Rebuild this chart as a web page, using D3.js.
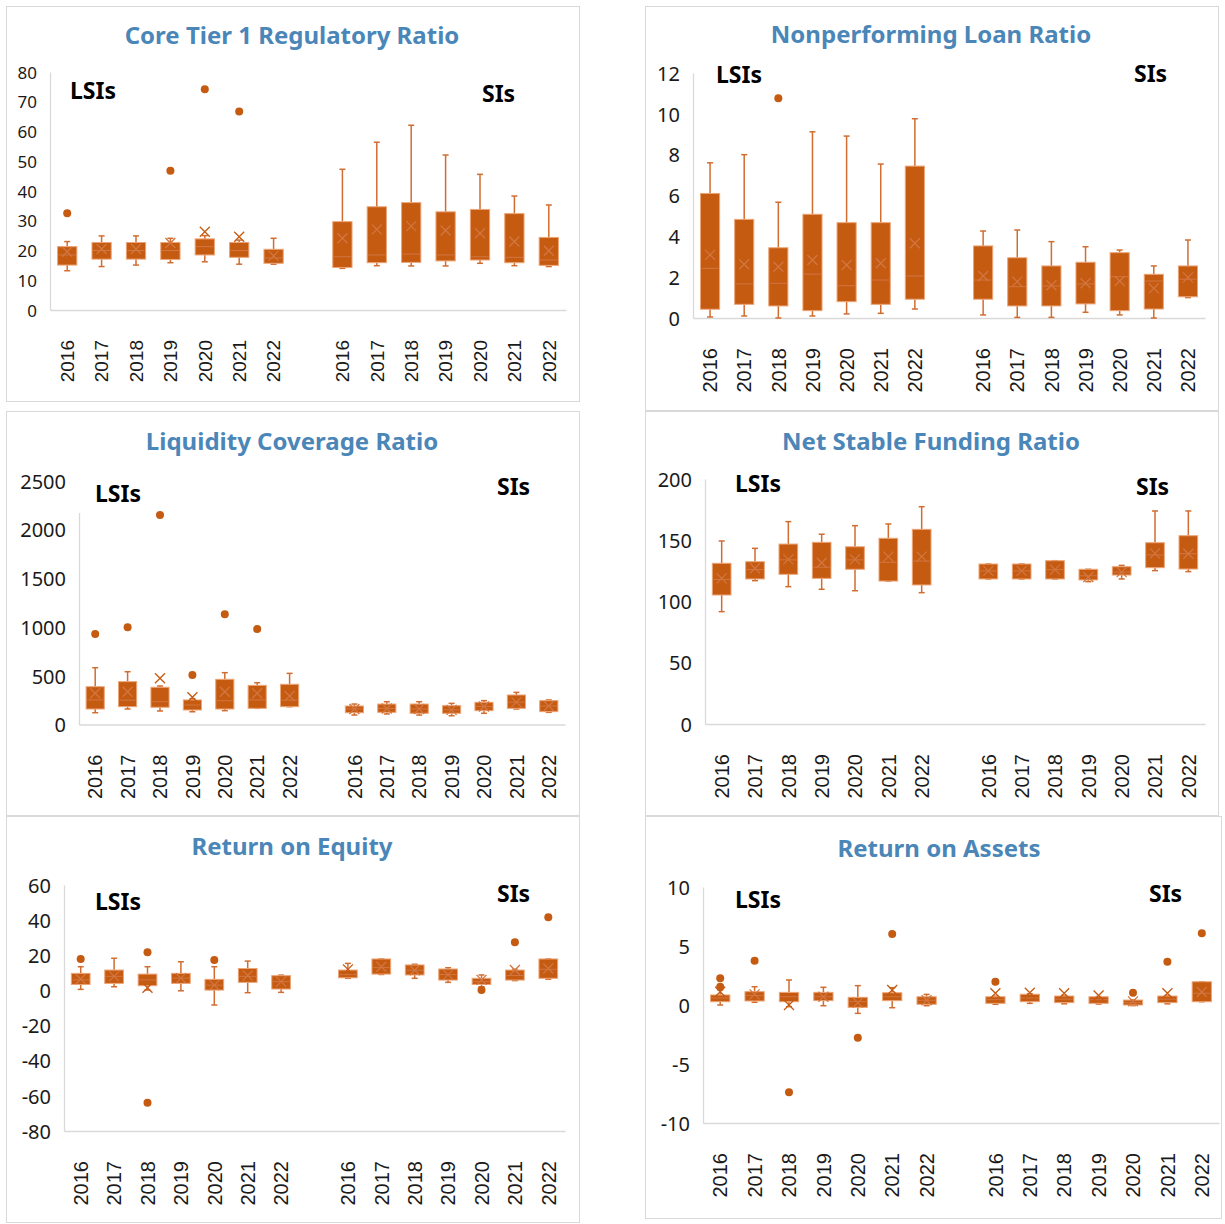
<!DOCTYPE html>
<html>
<head>
<meta charset="utf-8">
<script src="https://cdn.jsdelivr.net/npm/d3@7"></script>
<style>
  html, body { margin: 0; padding: 0; background: #fff; }
  svg { display: block; }
</style>
</head>
<body>
<svg id="chart" width="1225" height="1224"></svg>
<script>
// Years shown for each banking group
const years = ["2016", "2017", "2018", "2019", "2020", "2021", "2022"];
const groups = ["LSIs", "SIs"];

// Box rows: [lower whisker, Q1, median, Q3, upper whisker, mean]
const ct1LSI = [
  [13.2, 15.1, 18.5, 21.3, 23.0, 19.6],
  [14.6, 17.1, 20.0, 22.7, 24.9, 20.5],
  [15.1, 17.1, 20.0, 22.7, 24.9, 20.5],
  [15.9, 17.0, 20.0, 22.7, 24.1, 22.5],
  [16.2, 18.5, 21.3, 23.9, 25.0, 26.3],
  [15.4, 17.7, 20.0, 22.7, 23.5, 24.6],
  [15.4, 15.7, 17.5, 20.4, 24.1, 18.2]
];
const ct1SI = [
  [14.0, 14.3, 17.9, 29.7, 47.3, 24.1],
  [14.9, 15.9, 18.5, 34.7, 56.4, 27.1],
  [14.8, 16.0, 18.8, 36.1, 62.1, 28.2],
  [14.8, 16.5, 18.5, 33.0, 52.1, 26.7],
  [15.7, 16.8, 17.9, 33.8, 45.6, 25.8],
  [14.9, 15.9, 17.7, 32.4, 38.3, 23.0],
  [14.6, 15.0, 16.8, 24.4, 35.3, 19.9]
];
// Outliers: [group, year, value]
const ct1Out = [["LSIs", "2016", 32.5], ["LSIs", "2019", 46.8], ["LSIs", "2020", 74.2], ["LSIs", "2021", 66.7]];
const ct1Ticks = [0, 10, 20, 30, 40, 50, 60, 70, 80];

const nplLSI = [
  [0.05, 0.43, 2.43, 6.10, 7.60, 3.09],
  [0.10, 0.67, 1.67, 4.83, 8.00, 2.63],
  [0.00, 0.59, 1.70, 3.44, 5.67, 2.51],
  [0.10, 0.36, 2.15, 5.08, 9.12, 2.84],
  [0.20, 0.80, 1.58, 4.67, 8.91, 2.60],
  [0.23, 0.67, 1.86, 4.67, 7.54, 2.68],
  [0.44, 0.92, 2.06, 7.44, 9.76, 3.66]
];
const nplSI = [
  [0.15, 0.92, 1.86, 3.53, 4.26, 2.06],
  [0.03, 0.59, 1.53, 2.95, 4.31, 1.78],
  [0.03, 0.59, 1.57, 2.55, 3.74, 1.60],
  [0.28, 0.69, 1.67, 2.73, 3.49, 1.70],
  [0.15, 0.36, 2.02, 3.20, 3.33, 1.81],
  [0.00, 0.44, 1.81, 2.14, 2.55, 1.45],
  [1.00, 1.04, 1.90, 2.55, 3.82, 1.99]
];
const nplOut = [["LSIs", "2018", 10.76]];
const nplTicks = [0, 2, 4, 6, 8, 10, 12];

const lcrLSI = [
  [121, 159, 252, 388, 583, 320],
  [159, 183, 250, 440, 542, 337],
  [139, 177, 234, 382, 395, 474],
  [131, 149, 200, 252, 265, 279],
  [142, 159, 244, 464, 532, 337],
  [166, 166, 252, 402, 429, 320],
  [183, 183, 250, 413, 525, 293]
];
const lcrSI = [
  [97, 121, 160, 190, 210, 160],
  [108, 125, 165, 210, 234, 165],
  [97, 115, 160, 210, 234, 160],
  [90, 115, 150, 193, 217, 150],
  [115, 142, 185, 228, 245, 185],
  [159, 166, 230, 303, 330, 230],
  [125, 132, 190, 245, 252, 190]
];
const lcrOut = [["LSIs", "2016", 929], ["LSIs", "2017", 998], ["LSIs", "2018", 2151],
                ["LSIs", "2019", 508], ["LSIs", "2020", 1131], ["LSIs", "2021", 980]];
const lcrTicks = [0, 500, 1000, 1500, 2000, 2500];

const nsfrLSI = [
  [91.7, 105.3, 118, 131.2, 149.4, 118.9],
  [117.0, 118.4, 126, 132.5, 143.4, 127.1],
  [112.1, 122.2, 134, 146.9, 165.2, 134.4],
  [110.0, 118.9, 128, 148.3, 154.9, 131.7],
  [108.8, 126.3, 134, 144.7, 161.9, 134.4],
  [116.7, 116.7, 132, 151.6, 163.3, 136.6],
  [107.2, 113.5, 133, 158.9, 177.4, 136.6]
];
const nsfrSI = [
  [118.4, 118.4, 125, 130.6, 130.6, 125],
  [118.4, 118.4, 125, 130.6, 130.6, 125],
  [118.4, 118.4, 126, 133.3, 133.3, 126],
  [116.2, 117.6, 121, 126.3, 126.3, 120],
  [118.4, 121.6, 124, 128.4, 129.5, 124],
  [125.2, 127.6, 138, 148.0, 173.9, 139.3],
  [124.4, 126.5, 139, 153.7, 173.9, 139.0]
];
const nsfrOut = [];
const nsfrTicks = [0, 50, 100, 150, 200];

const roeLSI = [
  [0.6, 3.4, 6.0, 9.7, 13.5, 6.5],
  [2.1, 4.0, 8.0, 11.6, 18.3, 8.0],
  [0.2, 2.7, 6.0, 9.3, 13.5, 1.5],
  [-0.2, 4.0, 7.0, 9.7, 16.3, 7.0],
  [-8.3, 0.2, 3.0, 6.3, 13.5, 3.0],
  [-1.3, 4.6, 8.0, 12.5, 16.7, 8.5],
  [-1.1, 0.8, 5.0, 8.4, 8.7, 5.0]
];
const roeSI = [
  [6.9, 7.2, 9.0, 11.6, 15.4, 12.0],
  [9.1, 9.3, 13.0, 17.9, 17.9, 13.5],
  [6.9, 8.8, 11.5, 14.5, 14.9, 11.5],
  [4.6, 5.9, 9.0, 12.2, 12.9, 9.0],
  [2.1, 3.4, 5.0, 6.9, 8.8, 6.0],
  [5.6, 5.9, 8.5, 11.6, 12.0, 11.6],
  [6.4, 6.9, 12.0, 17.9, 17.9, 12.5]
];
const roeOut = [["LSIs", "2016", 17.9], ["LSIs", "2018", 21.7], ["LSIs", "2018", -63.9], ["LSIs", "2020", 17.3],
                ["SIs", "2020", 0.2], ["SIs", "2021", 27.4], ["SIs", "2022", 41.6]];
const roeTicks = [-80, -60, -40, -20, 0, 20, 40, 60];

const roaLSI = [
  [0.00, 0.28, 0.60, 0.85, 1.27, 1.13],
  [0.23, 0.34, 0.80, 1.13, 1.55, 0.90],
  [-0.14, 0.28, 0.70, 1.07, 2.12, 0.00],
  [-0.06, 0.37, 0.70, 1.07, 1.50, 0.70],
  [-0.71, -0.20, 0.30, 0.65, 1.64, 0.20],
  [-0.23, 0.37, 0.70, 1.04, 1.47, 1.27],
  [-0.06, 0.06, 0.40, 0.70, 0.90, 0.40]
];
const roaSI = [
  [0.06, 0.14, 0.45, 0.70, 0.75, 0.99],
  [0.14, 0.28, 0.60, 0.91, 0.95, 1.04],
  [0.10, 0.20, 0.50, 0.76, 0.80, 0.99],
  [0.08, 0.14, 0.45, 0.70, 0.72, 0.80],
  [-0.05, 0.00, 0.20, 0.42, 0.45, 0.31],
  [0.10, 0.20, 0.50, 0.76, 0.80, 1.00],
  [0.28, 0.28, 1.00, 1.97, 1.97, 1.10]
];
const roaOut = [["LSIs", "2016", 2.26], ["LSIs", "2016", 1.55], ["LSIs", "2017", 3.76], ["LSIs", "2018", -7.4],
                ["LSIs", "2020", -2.77], ["LSIs", "2021", 6.02],
                ["SIs", "2016", 1.97], ["SIs", "2020", 1.04], ["SIs", "2021", 3.67], ["SIs", "2022", 6.08]];
const roaTicks = [-10, -5, 0, 5, 10];

// Panel layout: frame [x, y, w, h], plot [left, right, top, bottom]
const panels = [
  { title: "Core Tier 1 Regulatory Ratio", lsi: ct1LSI, si: ct1SI, out: ct1Out, ticks: ct1Ticks,
    frame: [6, 6, 573, 395], plot: [50, 566, 72, 310], titleAt: [292, 44], yFont: 17, xFont: 19,
    lsiAt: [70, 99], siAt: [482, 102] },
  { title: "Nonperforming Loan Ratio", lsi: nplLSI, si: nplSI, out: nplOut, ticks: nplTicks,
    frame: [645, 6, 573, 404], plot: [693, 1205, 73, 318], titleAt: [931, 43], yFont: 20, xFont: 20,
    lsiAt: [716, 83], siAt: [1134, 82] },
  { title: "Liquidity Coverage Ratio", lsi: lcrLSI, si: lcrSI, out: lcrOut, ticks: lcrTicks,
    frame: [6, 411, 573, 404], plot: [79, 565, 481, 724.5], titleAt: [292, 450], yFont: 20, xFont: 20,
    lsiAt: [95, 502], siAt: [497, 495], lsiMask: true },
  { title: "Net Stable Funding Ratio", lsi: nsfrLSI, si: nsfrSI, out: nsfrOut, ticks: nsfrTicks,
    frame: [645, 411, 573, 404], plot: [705, 1205, 479, 724], titleAt: [931, 450], yFont: 20, xFont: 20,
    lsiAt: [735, 492], siAt: [1136, 495] },
  { title: "Return on Equity", lsi: roeLSI, si: roeSI, out: roeOut, ticks: roeTicks,
    frame: [6, 816, 573, 406], plot: [64, 565, 885, 1131], titleAt: [292, 855], yFont: 20, xFont: 20,
    lsiAt: [95, 910], siAt: [497, 902] },
  { title: "Return on Assets", lsi: roaLSI, si: roaSI, out: roaOut, ticks: roaTicks,
    frame: [645, 816, 576, 402], plot: [703, 1219, 887, 1123], titleAt: [939, 857], yFont: 20, xFont: 20,
    lsiAt: [735, 908], siAt: [1149, 902] }
];

const ORANGE = "#C55A11";
const WHISKER = "#D06D31";
const BOX_EDGE = "#EDA577";
const INNER = "#D27642";
const AXIS = "#D9D9D9";

// 15 slots along x: seven LSI years, a spacer, seven SI years
const slots = [...years.map(y => "LSIs " + y), "gap", ...years.map(y => "SIs " + y)];

const svg = d3.select("#chart");

panels.forEach(p => {
  const g = svg.append("g");
  const [fx, fy, fw, fh] = p.frame;
  const [left, right, top, bottom] = p.plot;

  g.append("rect")
    .attr("x", fx + 0.5).attr("y", fy + 0.5)
    .attr("width", fw).attr("height", fh)
    .attr("fill", "#fff").attr("stroke", AXIS).attr("stroke-width", 1);

  const x = d3.scaleBand().domain(slots).range([left, right]).padding(0);
  const y = d3.scaleLinear().domain(d3.extent(p.ticks)).range([bottom, top]);

  // Value axis: light rule plus tick labels (plain hyphen for negatives)
  const yAxis = d3.axisLeft(y).tickValues(p.ticks).tickSize(0).tickPadding(13).tickFormat(d => String(d));
  const ya = g.append("g").attr("transform", `translate(${left},0)`).call(yAxis);
  ya.select(".domain").attr("stroke", AXIS).attr("stroke-width", 1.3);
  ya.selectAll("text")
    .attr("font-family", "'Noto Sans', 'Open Sans', sans-serif")
    .attr("font-size", p.yFont).attr("fill", "#1a1a1a").attr("dy", "0.36em");

  // Category axis along the bottom with vertical year labels
  const xAxis = d3.axisBottom(x).tickSize(0).tickFormat(d => d === "gap" ? "" : d.split(" ")[1]);
  const xa = g.append("g").attr("transform", `translate(0,${bottom})`).call(xAxis);
  xa.select(".domain").attr("stroke", AXIS).attr("stroke-width", 1.3);
  xa.selectAll("text")
    .attr("font-family", "'Liberation Sans', Arial, sans-serif")
    .attr("font-size", p.xFont).attr("fill", "#1a1a1a")
    .attr("text-anchor", "end")
    .attr("transform", "rotate(-90)")
    .attr("x", -30).attr("y", 0).attr("dy", "0.36em");

  // Boxes
  const bw = x.bandwidth() * 0.56;
  const cap = 6;
  const rows = [];
  groups.forEach(grp => {
    const src = grp === "LSIs" ? p.lsi : p.si;
    src.forEach((r, i) => rows.push({ key: grp + " " + years[i], lo: r[0], q1: r[1], med: r[2], q3: r[3], hi: r[4], mean: r[5] }));
  });

  const box = g.selectAll(".box").data(rows).join("g").attr("class", "box")
    .attr("transform", d => `translate(${x(d.key) + x.bandwidth() / 2},0)`);

  box.append("line").attr("x1", 0).attr("x2", 0)
    .attr("y1", d => y(d.hi)).attr("y2", d => y(d.q3))
    .attr("stroke", WHISKER).attr("stroke-width", 1.5);
  box.append("line").attr("x1", 0).attr("x2", 0)
    .attr("y1", d => y(d.q1)).attr("y2", d => y(d.lo))
    .attr("stroke", WHISKER).attr("stroke-width", 1.5);
  box.append("line").attr("x1", -cap / 2).attr("x2", cap / 2)
    .attr("y1", d => y(d.hi)).attr("y2", d => y(d.hi))
    .attr("stroke", WHISKER).attr("stroke-width", 1.5);
  box.append("line").attr("x1", -cap / 2).attr("x2", cap / 2)
    .attr("y1", d => y(d.lo)).attr("y2", d => y(d.lo))
    .attr("stroke", WHISKER).attr("stroke-width", 1.5);

  box.append("rect")
    .attr("x", -bw / 2).attr("width", bw)
    .attr("y", d => y(d.q3)).attr("height", d => Math.max(1, y(d.q1) - y(d.q3)))
    .attr("fill", ORANGE).attr("stroke", BOX_EDGE).attr("stroke-width", 1);

  box.append("line").attr("x1", -bw / 2 + 1).attr("x2", bw / 2 - 1)
    .attr("y1", d => y(d.med)).attr("y2", d => y(d.med))
    .attr("stroke", INNER).attr("stroke-width", 1);

  // Mean marker (X)
  const m = 5;
  box.append("path")
    .attr("d", d => {
      const cy = y(d.mean);
      return `M${-m},${cy - m}L${m},${cy + m}M${-m},${cy + m}L${m},${cy - m}`;
    })
    .attr("fill", "none")
    .attr("stroke", d => (d.mean <= d.q3 && d.mean >= d.q1) ? INNER : ORANGE)
    .attr("stroke-width", 1.3);

  // Outlier points
  g.selectAll(".out").data(p.out).join("circle").attr("class", "out")
    .attr("cx", d => x(d[0] + " " + d[1]) + x.bandwidth() / 2)
    .attr("cy", d => y(d[2]))
    .attr("r", 4).attr("fill", ORANGE);

  // Title
  g.append("text")
    .attr("x", p.titleAt[0]).attr("y", p.titleAt[1])
    .attr("text-anchor", "middle")
    .attr("font-family", "'Noto Sans', 'Open Sans', sans-serif")
    .attr("font-weight", "bold").attr("font-size", 24)
    .attr("fill", "#4A86B8")
    .text(p.title);

  // Group labels
  if (p.lsiMask) {
    g.append("rect").attr("x", left - 2).attr("y", p.lsiAt[1] - 25).attr("width", 70).attr("height", 36).attr("fill", "#fff");
  }
  g.append("text").attr("x", p.lsiAt[0]).attr("y", p.lsiAt[1])
    .attr("font-family", "'Noto Sans', 'Open Sans', sans-serif")
    .attr("font-weight", "bold").attr("font-size", 23).attr("fill", "#000")
    .text(groups[0]);
  g.append("text").attr("x", p.siAt[0]).attr("y", p.siAt[1])
    .attr("font-family", "'Noto Sans', 'Open Sans', sans-serif")
    .attr("font-weight", "bold").attr("font-size", 23).attr("fill", "#000")
    .text(groups[1]);
});
</script>
</body>
</html>
